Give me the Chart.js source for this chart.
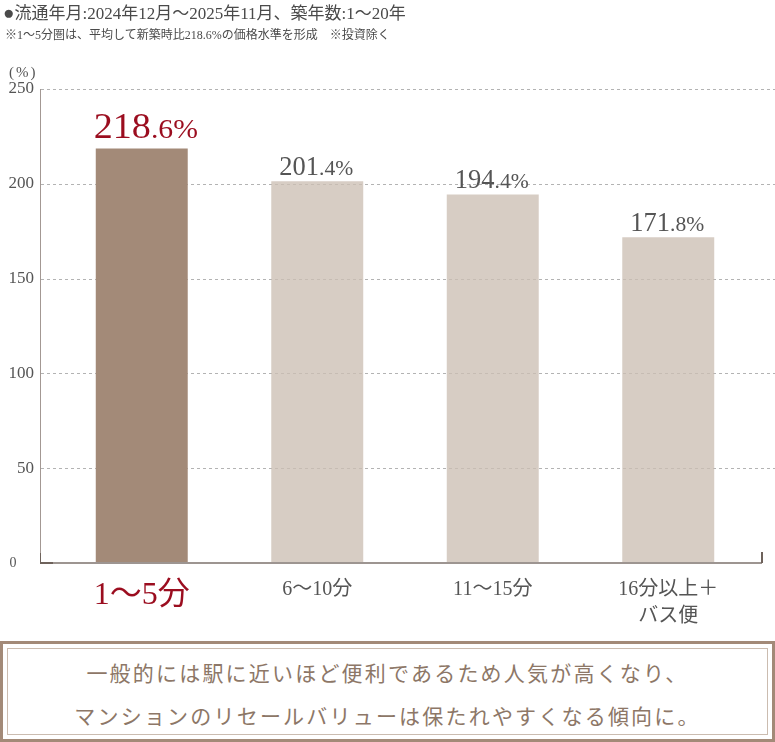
<!DOCTYPE html>
<html lang="ja">
<head>
<meta charset="utf-8">
<script src="https://cdn.jsdelivr.net/npm/chart.js@4.4.1/dist/chart.umd.min.js"></script>
<style>
  html, body { margin: 0; padding: 0; background: #fff; }
  #wrap { position: relative; width: 775px; height: 742px; overflow: hidden; }
  #grafico { position: absolute; left: 0; top: 0; }
  .titulo { position: absolute; left: 3px; top: 0px; font: 17px "Liberation Serif", "Noto Sans CJK JP", serif; color: #4a4a4a; line-height: 26px; white-space: nowrap; }
  .titulo span { font-size: 19px; }
  .sub { position: absolute; left: 5px; top: 27px; font: 12px "Liberation Serif", "Noto Sans CJK JP", serif; color: #4a4a4a; line-height: 16px; white-space: nowrap; }
  .unidade { position: absolute; left: 9px; top: 62px; font: 15px "Liberation Serif", "Noto Sans CJK JP", serif; color: #555; line-height: 20px; letter-spacing: 2px; }
  .caixa { position: absolute; left: 0; top: 641px; width: 775px; height: 101px; box-sizing: border-box; border: 3px solid #a38a78; }
  .caixa .dentro { position: absolute; left: 4px; top: 4px; right: 4px; bottom: 4px; border: 1px solid #cbbcb0; text-align: center; padding-top: 2px; box-sizing: border-box; }
  .caixa p { margin: 0; font: 21px "Noto Sans CJK JP", sans-serif; color: #8d7767; letter-spacing: 2.2px; line-height: 43px; }
</style>
</head>
<body>
<div id="wrap">
  <canvas id="grafico" width="775" height="640"></canvas>
  <div class="titulo"><span>●</span>流通年月:2024年12月～2025年11月、築年数:1～20年</div>
  <div class="sub">※1～5分圏は、平均して新築時比218.6%の価格水準を形成　※投資除く</div>
  <div class="unidade">(%)</div>
  <div class="caixa"><div class="dentro">
    <p>一般的には駅に近いほど便利であるため人気が高くなり、</p>
    <p>マンションのリセールバリューは保たれやすくなる傾向に。</p>
  </div></div>
</div>
<script>
// dados
const categorias = [['1～5分'], ['6～10分'], ['11～15分'], ['16分以上＋', 'バス便']];
const valores = [218.6, 201.4, 194.4, 171.8];
const destaque = 0; // barra em destaque
const yMin = 0;
const yMax = 250;
const yPasso = 50;

const serif = '"Liberation Serif", "Noto Sans CJK JP", serif';
const corDestaque = '#9b0d1f';
const corTexto = '#555555';

// linhas de grade e eixos desenhados a mao
const eixos = {
  id: 'eixos',
  beforeDatasetsDraw(chart) {
    const ctx = chart.ctx;
    const y = chart.scales.y;
    const area = chart.chartArea;
    ctx.save();
    ctx.strokeStyle = '#b3b3b3';
    ctx.lineWidth = 1;
    ctx.setLineDash([3, 3]);
    for (let v = yMin + yPasso; v <= yMax; v += yPasso) {
      const py = Math.round(y.getPixelForValue(v)) + 0.5;
      ctx.beginPath();
      ctx.moveTo(41, py);
      ctx.lineTo(775, py);
      ctx.stroke();
    }
    ctx.setLineDash([]);
    // eixo vertical
    ctx.strokeStyle = '#a39893';
    ctx.beginPath();
    ctx.moveTo(40.5, y.getPixelForValue(yMax));
    ctx.lineTo(40.5, area.bottom);
    ctx.stroke();
    ctx.restore();
  },
  afterDatasetsDraw(chart) {
    const ctx = chart.ctx;
    const base = Math.round(chart.scales.y.getPixelForValue(0));
    ctx.save();
    ctx.fillStyle = '#9d9591';
    ctx.fillRect(40, base - 1, 722, 2);
    ctx.fillStyle = '#6e625b';
    ctx.fillRect(40, base - 1, 13, 2);
    ctx.fillRect(40, base - 10, 1, 10);
    ctx.fillRect(761, base - 11, 2, 11);
    ctx.restore();
  }
};

// rotulos de valor acima das barras
const rotulos = {
  id: 'rotulos',
  afterDatasetsDraw(chart) {
    const ctx = chart.ctx;
    const meta = chart.getDatasetMeta(0);
    meta.data.forEach((barra, i) => {
      const txt = valores[i].toFixed(1);
      const inteiro = txt.split('.')[0];
      const resto = '.' + txt.split('.')[1] + '%';
      const grande = i === destaque;
      const f1 = grande ? 36 : 27;
      const f2 = grande ? 28 : 22;
      const esc = grande ? 1.06 : 0.98;
      ctx.save();
      ctx.fillStyle = grande ? corDestaque : corTexto;
      ctx.textBaseline = 'alphabetic';
      ctx.textAlign = 'left';
      ctx.font = f1 + 'px ' + serif;
      const w1 = ctx.measureText(inteiro).width;
      ctx.font = f2 + 'px ' + serif;
      const w2 = ctx.measureText(resto).width;
      const total = (w1 + w2) * esc;
      const baseY = barra.y - (grande ? 11 : 6);
      ctx.translate(barra.x - total / 2 + (grande ? 4 : -1), baseY);
      ctx.scale(esc, 1);
      ctx.font = f1 + 'px ' + serif;
      ctx.fillText(inteiro, 0, 0);
      ctx.font = f2 + 'px ' + serif;
      ctx.fillText(resto, w1, 0);
      ctx.restore();
    });
  }
};

const cores = valores.map((v, i) => i === destaque ? '#a38a78' : 'rgba(204,191,180,0.78)');

new Chart(document.getElementById('grafico'), {
  type: 'bar',
  data: {
    labels: categorias,
    datasets: [{
      data: valores,
      backgroundColor: cores,
      borderWidth: 0,
      barPercentage: 0.524,
      categoryPercentage: 1
    }]
  },
  options: {
    responsive: false,
    animation: false,
    layout: { padding: { top: 89, right: 19, left: 0, bottom: 0 } },
    plugins: { legend: { display: false }, tooltip: { enabled: false } },
    scales: {
      x: {
        grid: { display: false, drawTicks: false },
        border: { display: false },
        ticks: {
          autoSkip: false,
          maxRotation: 0,
          padding: 13,
          color: (c) => c.index === destaque ? corDestaque : corTexto,
          font: (c) => c.index === destaque
            ? { size: 32, family: serif, lineHeight: 1.2 }
            : { size: 20, family: serif, lineHeight: 1.35 }
        },
        afterFit: (s) => { s.height = 77; }
      },
      y: {
        min: yMin,
        max: yMax,
        grid: { display: false, drawTicks: false },
        border: { display: false },
        ticks: {
          stepSize: yPasso,
          padding: 20,
          color: corTexto,
          // o zero fica mais a esquerda no original
          callback: (v) => v === 0 ? '0     ' : String(v),
          font: (c) => ({ size: c.tick && c.tick.value === 0 ? 14 : 17, family: serif })
        },
        afterFit: (s) => { s.width = 54; }
      }
    }
  },
  plugins: [eixos, rotulos]
});
</script>
</body>
</html>
